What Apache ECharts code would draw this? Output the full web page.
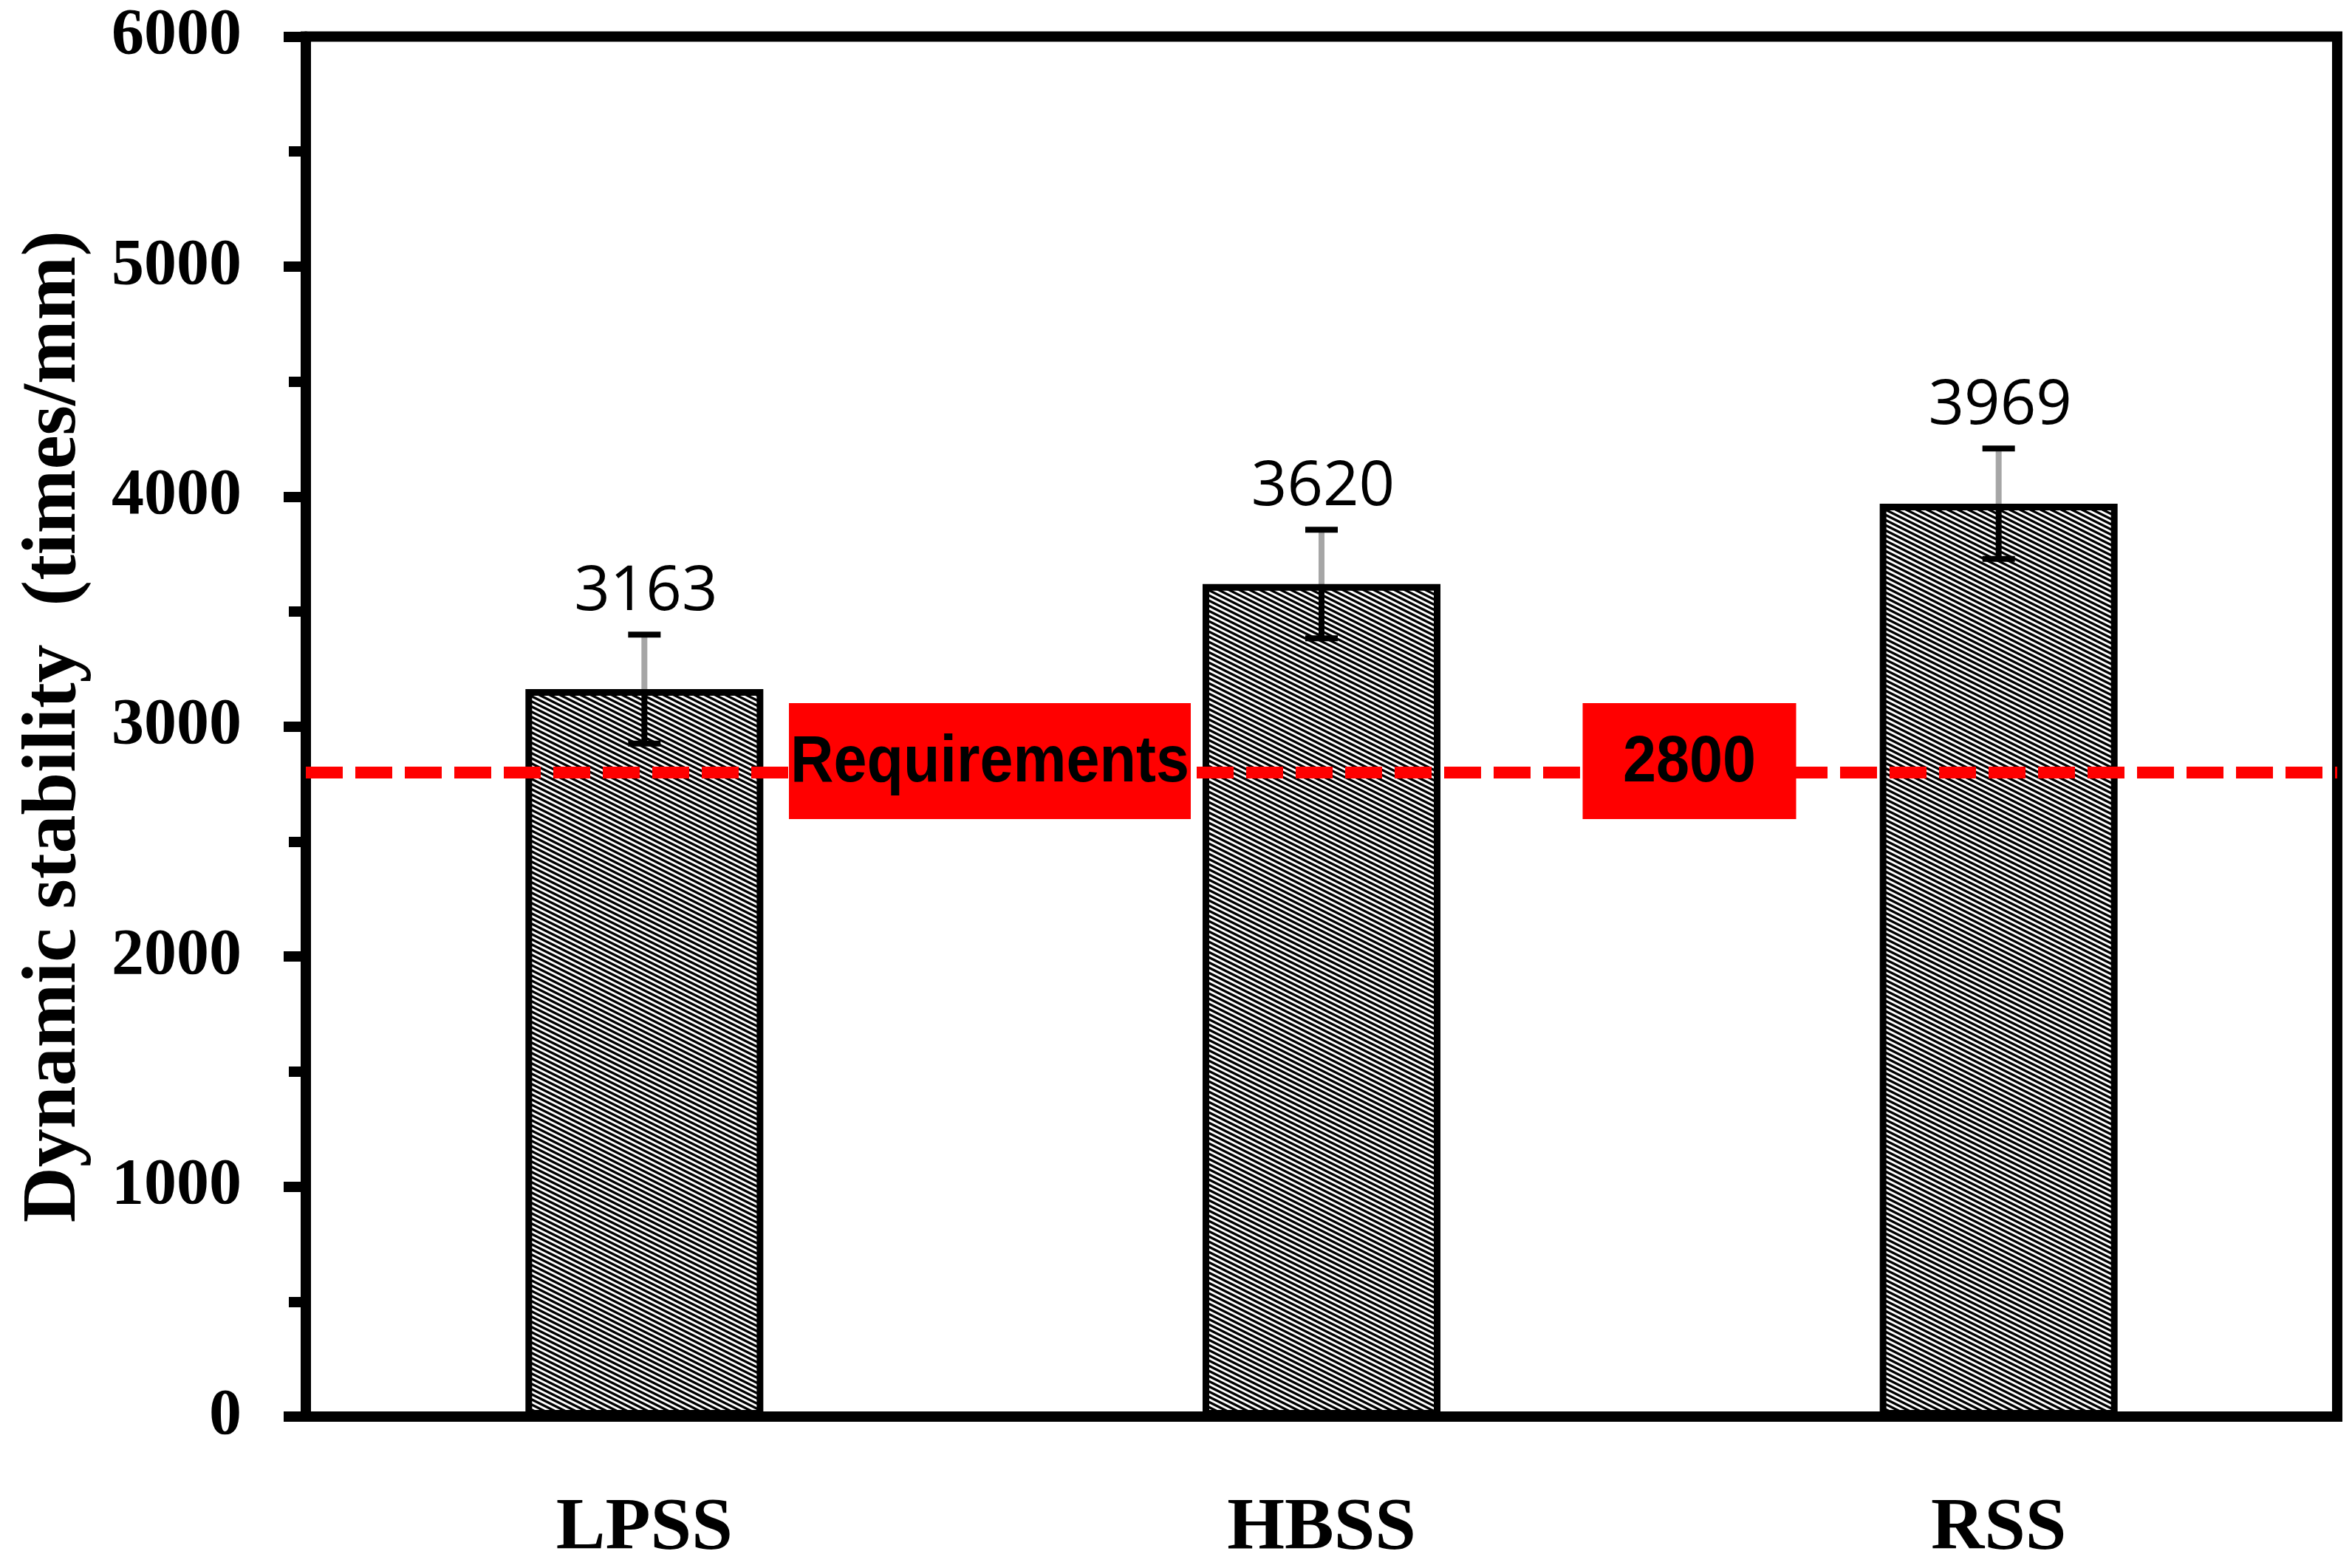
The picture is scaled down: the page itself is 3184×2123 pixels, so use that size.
<!DOCTYPE html>
<html>
<head>
<meta charset="utf-8">
<script src="https://cdn.jsdelivr.net/npm/echarts@6/dist/echarts.min.js"></script>
<style>
html,body{margin:0;padding:0;background:#fff;}
#main{width:3184px;height:2123px;}
</style>
</head>
<body>
<div id="main"></div>
<script>
// data
var categories = ['LPSS', 'HBSS', 'RSS'];
var values = [3163, 3620, 3969];
var errors = [237, 236, 240];
var requirement = 2800;
var reqTexts = ['Requirements', '2800'];

// hatch pattern for bars (diagonal "\" stripes)
var pat = document.createElement('canvas');
pat.width = 14;
pat.height = 7;
var ctx = pat.getContext('2d');
ctx.fillStyle = '#fff';
ctx.fillRect(0, 0, 14, 7);
ctx.fillStyle = '#000';
ctx.beginPath();
ctx.moveTo(0, 0); ctx.lineTo(14, 7); ctx.lineTo(14, 10.8); ctx.lineTo(0, 3.8); ctx.closePath();
ctx.moveTo(0, -7); ctx.lineTo(14, 0); ctx.lineTo(14, 3.8); ctx.lineTo(0, -3.2); ctx.closePath();
ctx.fill();

var errData = values.map(function (v, i) { return [i, v, errors[i]]; });

var myChart = echarts.init(document.getElementById('main'));
var option = {
  backgroundColor: '#fff',
  animation: false,
  grid: {
    left: 414, right: 20, top: 49.5, bottom: 205,
    show: true, borderColor: '#000', borderWidth: 14
  },
  xAxis: {
    type: 'category',
    data: categories,
    axisLine: { lineStyle: { color: '#000', width: 14 } },
    axisTick: { show: false },
    axisLabel: {
      color: '#000', fontFamily: 'Liberation Serif', fontWeight: 'bold',
      fontSize: 100, margin: 102
    }
  },
  yAxis: {
    type: 'value',
    min: 0, max: 6000, interval: 1000,
    name: 'Dynamic stability  (times/mm)',
    nameLocation: 'middle',
    nameGap: 288,
    nameTextStyle: {
      color: '#000', fontFamily: 'Liberation Serif', fontWeight: 'bold', fontSize: 104
    },
    axisLine: { show: true, lineStyle: { color: '#000', width: 14 } },
    axisTick: { show: true, length: 30, lineStyle: { color: '#000', width: 14 } },
    minorTick: { show: true, splitNumber: 2, length: 23, lineStyle: { color: '#000', width: 14 } },
    splitLine: { show: false },
    axisLabel: {
      color: '#000', fontFamily: 'Liberation Serif', fontWeight: 'bold',
      fontSize: 88, margin: 87,
      formatter: function (v) { return String(v); }
    }
  },
  series: [
    {
      type: 'bar',
      data: values,
      barWidth: 322,
      itemStyle: {
        color: { image: pat, repeat: 'repeat' },
        borderColor: '#000',
        borderWidth: 9
      },
      markLine: {
        silent: true,
        symbol: 'none',
        label: { show: false },
        lineStyle: { color: '#ff0000', width: 16, type: [50, 17] },
        data: [{ yAxis: requirement }]
      }
    },
    {
      type: 'custom',
      z: 5,
      data: errData,
      renderItem: function (params, api) {
        var i = api.value(0), v = api.value(1), e = api.value(2);
        var pv = api.coord([i, v]);
        var pt = api.coord([i, v + e]);
        var pb = api.coord([i, v - e]);
        var x = pv[0], hw = 22;
        return {
          type: 'group',
          children: [
            { type: 'line', shape: { x1: x, y1: pv[1], x2: x, y2: pt[1] }, style: { stroke: '#a6a6a6', lineWidth: 8 } },
            { type: 'line', shape: { x1: x, y1: pv[1], x2: x, y2: pb[1] }, style: { stroke: '#000', lineWidth: 8 } },
            { type: 'line', shape: { x1: x - hw, y1: pt[1], x2: x + hw, y2: pt[1] }, style: { stroke: '#000', lineWidth: 8 } },
            { type: 'line', shape: { x1: x - hw, y1: pb[1], x2: x + hw, y2: pb[1] }, style: { stroke: '#000', lineWidth: 8 } },
            {
              type: 'text',
              style: {
                x: x + 2, y: pt[1] - 57, text: String(v),
                fill: '#000', font: '85px "Open Sans"',
                align: 'center', verticalAlign: 'middle'
              }
            }
          ]
        };
      }
    }
  ]
};
myChart.setOption(option);

// requirement annotation boxes on the dashed line
var ly = myChart.convertToPixel({ yAxisIndex: 0 }, requirement);
function reqBox(cx, w, txt) {
  return {
    type: 'group', x: cx, y: ly - 16, z: 100,
    children: [
      { type: 'rect', shape: { x: -w / 2, y: -78, width: w, height: 157 }, style: { fill: '#ff0000' }, z: 100 },
      {
        type: 'text', x: 0, y: 3, scaleY: 1.1, z: 101,
        style: {
          text: txt, fill: '#000', font: 'bold 81px "Liberation Sans"',
          align: 'center', verticalAlign: 'middle'
        }
      }
    ]
  };
}
myChart.setOption({
  graphic: [
    reqBox(1340, 544, reqTexts[0]),
    reqBox(2287, 289, reqTexts[1])
  ]
});
</script>
</body>
</html>
